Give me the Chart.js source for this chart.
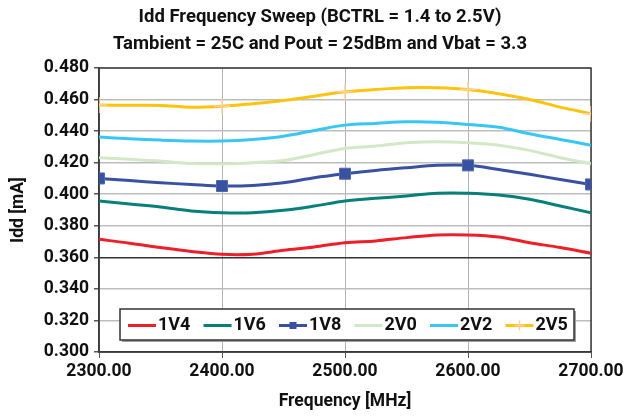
<!DOCTYPE html>
<html>
<head>
<meta charset="utf-8">
<title>Idd Frequency Sweep</title>
<script src="https://cdn.jsdelivr.net/npm/chart.js@4/dist/chart.umd.min.js"></script>
<style>
  html, body { margin: 0; padding: 0; background: #fff; }
  #wrap { width: 630px; height: 416px; }
</style>
</head>
<body>
<div id="wrap"><canvas id="myChart" width="630" height="416"></canvas></div>
<script>
// sweep frequencies in MHz
const freq = [2300, 2325, 2350, 2375, 2400, 2425, 2450, 2475, 2500,
              2525, 2550, 2575, 2600, 2625, 2650, 2675, 2700];

// Idd per BCTRL setting
const idd1V4 = [0.3714, 0.3690, 0.3662, 0.3637, 0.3619, 0.3620, 0.3645, 0.3666, 0.3693,
                0.3704, 0.3725, 0.3742, 0.3742, 0.3729, 0.3693, 0.3662, 0.3626];
const idd1V6 = [0.3957, 0.3938, 0.3919, 0.3894, 0.3883, 0.3883, 0.3898, 0.3925, 0.3957,
                0.3974, 0.3989, 0.4006, 0.4006, 0.3995, 0.3968, 0.3925, 0.3883];
const idd1V8 = [0.4100, 0.4087, 0.4073, 0.4062, 0.4052, 0.4056, 0.4073, 0.4105, 0.4130,
                0.4151, 0.4168, 0.4183, 0.4183, 0.4157, 0.4126, 0.4094, 0.4062];
const idd2V0 = [0.4231, 0.4221, 0.4210, 0.4195, 0.4193, 0.4200, 0.4214, 0.4252, 0.4290,
                0.4305, 0.4326, 0.4333, 0.4326, 0.4311, 0.4278, 0.4231, 0.4193];
const idd2V2 = [0.4362, 0.4352, 0.4343, 0.4337, 0.4337, 0.4347, 0.4368, 0.4404, 0.4438,
                0.4449, 0.4459, 0.4457, 0.4442, 0.4425, 0.4383, 0.4347, 0.4311];
const idd2V5 = [0.4565, 0.4564, 0.4563, 0.4552, 0.4558, 0.4573, 0.4594, 0.4621, 0.4649,
                0.4664, 0.4675, 0.4675, 0.4664, 0.4637, 0.4601, 0.4552, 0.4510];

const seriesLabels = ['1V4', '1V6', '1V8', '2V0', '2V2', '2V5'];

const yTicks = [0.300, 0.320, 0.340, 0.360, 0.380, 0.400, 0.420, 0.440, 0.460, 0.480];
const xTicks = [2300, 2400, 2500, 2600, 2700];

const FONT = 'Roboto, "Liberation Sans", sans-serif';

function toPoints(values) {
  return freq.map((f, i) => ({ x: f, y: values[i] }));
}

// markers only on the 100 MHz steps
function markerSize(r) {
  return freq.map(f => (f % 100 === 0 ? r : 0));
}

function makeSeries(label, values, color, extra) {
  return Object.assign({
    label: label,
    data: toPoints(values),
    borderColor: color,
    backgroundColor: color,
    borderWidth: 3,
    pointRadius: 0,
    pointHoverRadius: 0,
    tension: 0.35,
    fill: false,
  }, extra || {});
}

const datasets = [
  makeSeries(seriesLabels[0], idd1V4, '#ed1f29'),
  makeSeries(seriesLabels[1], idd1V6, '#077f7b'),
  makeSeries(seriesLabels[2], idd1V8, '#3851a2', {
    pointStyle: 'rect',
    pointRadius: markerSize(7.8),
    pointBackgroundColor: '#3851a2',
    pointBorderColor: '#5468b0',
    pointBorderWidth: 1,
  }),
  makeSeries(seriesLabels[3], idd2V0, '#d3e8c6'),
  makeSeries(seriesLabels[4], idd2V2, '#38c7f4'),
  makeSeries(seriesLabels[5], idd2V5, '#fec30f', {
    pointStyle: 'cross',
    pointRadius: markerSize(8),
    pointBorderColor: '#fdd29c',
    pointBorderWidth: 1.5,
  }),
];

// frame round the plot area
const frame = {
  id: 'frame',
  beforeDatasetsDraw(chart) {
    const { ctx, chartArea: a } = chart;
    ctx.save();
    ctx.strokeStyle = '#3a3a3a';
    ctx.lineWidth = 1.5;
    ctx.strokeRect(a.left, a.top, a.right - a.left, a.bottom - a.top);
    ctx.restore();
  }
};

// boxed legend sitting inside the plot, near the bottom
const boxLegend = {
  id: 'boxLegend',
  afterDraw(chart) {
    const { ctx, chartArea: a } = chart;
    const w = 454, h = 31;
    const left = Math.round((a.left + a.right) / 2 - w / 2 + 2);
    const top = a.bottom - 12 - h;
    ctx.save();
    ctx.fillStyle = '#a0a0a0';
    ctx.fillRect(left + 2, top + 2, w, h);
    ctx.fillStyle = '#fff';
    ctx.fillRect(left, top, w, h);
    ctx.strokeStyle = '#333';
    ctx.lineWidth = 1.5;
    ctx.strokeRect(left, top, w, h);

    ctx.font = 'bold 18px ' + FONT;
    ctx.textBaseline = 'middle';
    ctx.textAlign = 'left';
    const cy = top + h / 2 + 1;
    chart.data.datasets.forEach((ds, i) => {
      const x0 = left + 8 + i * 75.5;
      ctx.strokeStyle = ds.borderColor;
      ctx.lineWidth = 3;
      ctx.beginPath();
      ctx.moveTo(x0, cy);
      ctx.lineTo(x0 + 28, cy);
      ctx.stroke();
      if (ds.pointStyle === 'rect') {
        ctx.fillStyle = ds.pointBackgroundColor;
        ctx.fillRect(x0 + 14 - 3.5, cy - 3.5, 7, 7);
      } else if (ds.pointStyle === 'cross') {
        ctx.strokeStyle = ds.pointBorderColor;
        ctx.lineWidth = 1.5;
        ctx.beginPath();
        ctx.moveTo(x0 + 14, cy - 5);
        ctx.lineTo(x0 + 14, cy + 5);
        ctx.moveTo(x0 + 9, cy);
        ctx.lineTo(x0 + 19, cy);
        ctx.stroke();
      }
      ctx.fillStyle = '#111';
      ctx.fillText(ds.label, x0 + 30, cy);
    });
    ctx.restore();
  }
};

const whiteBg = {
  id: 'whiteBg',
  beforeDraw(chart) {
    const { ctx, width, height } = chart;
    ctx.save();
    ctx.fillStyle = '#fff';
    ctx.fillRect(0, 0, width, height);
    ctx.restore();
  }
};

Chart.defaults.font.family = FONT;
Chart.defaults.font.weight = 'bold';
Chart.defaults.color = '#111';

new Chart(document.getElementById('myChart').getContext('2d'), {
  type: 'line',
  data: { datasets: datasets },
  options: {
    responsive: false,
    animation: false,
    events: [],
    layout: { padding: { left: 10, right: 0, top: 0, bottom: 0 } },
    plugins: {
      legend: { display: false },
      tooltip: { enabled: false },
      title: {
        display: true,
        text: ['Idd Frequency Sweep (BCTRL = 1.4 to 2.5V)',
               'Tambient = 25C and Pout = 25dBm and Vbat = 3.3'],
        font: { size: 18.5, weight: 'bold', lineHeight: 1.46 },
        color: '#111',
        padding: { top: 4, bottom: 10 },
      },
    },
    scales: {
      x: {
        type: 'linear',
        min: xTicks[0],
        max: xTicks[xTicks.length - 1],
        afterBuildTicks(scale) { scale.ticks = xTicks.map(v => ({ value: v })); },
        afterFit(scale) { scale.height = 64; },
        ticks: {
          font: { size: 17.5, weight: 'bold' },
          color: '#111',
          padding: 3,
          maxRotation: 0,
          callback: v => Number(v).toFixed(2),
        },
        grid: { color: '#b4b4b4', lineWidth: 1, tickLength: 6, tickColor: '#555' },
        border: { color: '#3a3a3a', width: 1.5 },
        title: {
          display: true,
          text: 'Frequency [MHz]',
          font: { size: 17.5, weight: 'bold', lineHeight: 1.2 },
          color: '#111',
          padding: { top: 0, bottom: 4 },
        },
      },
      y: {
        type: 'linear',
        min: yTicks[0],
        max: yTicks[yTicks.length - 1],
        afterBuildTicks(scale) { scale.ticks = yTicks.map(v => ({ value: v })); },
        afterFit(scale) { scale.width = 89; },
        ticks: {
          font: { size: 17.5, weight: 'bold' },
          color: '#111',
          padding: 5,
          callback: v => Number(v).toFixed(3),
        },
        grid: {
          color: c => (c.tick && Math.abs(c.tick.value - 0.36) < 1e-6 ? '#333' : '#bdbdbd'),
          lineWidth: 1.5,
          tickLength: 5,
          tickColor: '#555',
        },
        border: { color: '#3a3a3a', width: 1.5 },
        title: {
          display: true,
          text: 'Idd [mA]',
          font: { size: 17.5, weight: 'bold', lineHeight: 1.0 },
          color: '#111',
          padding: { top: 0, bottom: 0 },
        },
      },
      // empty right-hand strip so the plot ends short of the canvas edge
      yRight: {
        type: 'linear',
        position: 'right',
        min: yTicks[0],
        max: yTicks[yTicks.length - 1],
        afterFit(scale) { scale.width = 39; },
        ticks: { display: false },
        grid: { display: false },
        border: { display: false },
      },
    },
  },
  plugins: [whiteBg, frame, boxLegend],
});
</script>
</body>
</html>
